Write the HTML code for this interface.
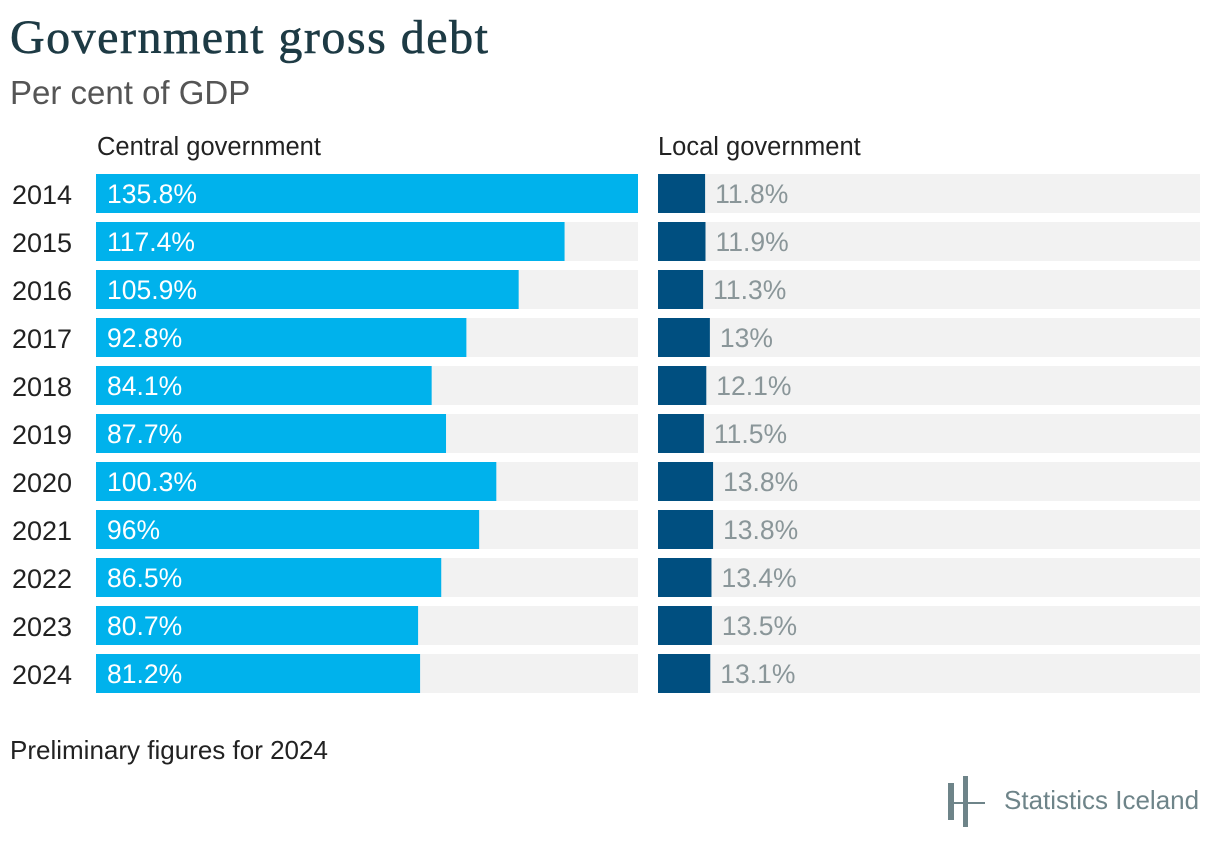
<!DOCTYPE html>
<html><head><meta charset="utf-8"><style>
body{margin:0;width:1220px;height:852px;background:#fff;font-family:"Liberation Sans",sans-serif;overflow:hidden;position:relative}
.t{position:absolute;white-space:nowrap}
</style></head><body>
<div class="t" style="left:10px;top:10px;font-family:'Liberation Serif',serif;font-size:48px;letter-spacing:1.5px;color:#1d3a44;-webkit-text-stroke:0.6px #1d3a44">Government gross debt</div>
<div class="t" style="left:10px;top:74px;font-size:33px;color:#555">Per cent of GDP</div>
<div class="t" style="left:97px;top:133px;font-size:25.5px;color:#222">Central government</div>
<div class="t" style="left:658px;top:133px;font-size:25.5px;color:#222">Local government</div>
<svg id="chart" width="1220" height="852" style="position:absolute;left:0;top:0"></svg>
<div class="t" style="left:10px;top:735px;font-size:26px;color:#222">Preliminary figures for 2024</div>
<div>
<div style="position:absolute;left:948px;top:783px;width:6px;height:37px;background:#6e8489"></div>
<div style="position:absolute;left:963px;top:776px;width:5px;height:51px;background:#6e8489"></div>
<div style="position:absolute;left:948px;top:802px;width:37px;height:2px;background:#6e8489"></div>
<div class="t" style="left:1004px;top:785px;font-size:26px;color:#6e8489">Statistics Iceland</div>
</div>
<script>
const years=["2014","2015","2016","2017","2018","2019","2020","2021","2022","2023","2024"];
const central=[135.8,117.4,105.9,92.8,84.1,87.7,100.3,96,86.5,80.7,81.2];
const local=[11.8,11.9,11.3,13,12.1,11.5,13.8,13.8,13.4,13.5,13.1];
const NS="http://www.w3.org/2000/svg";
const svg=document.getElementById('chart');
const maxV=135.8,W=542;
const x=v=>v/maxV*W;
const y=i=>174+i*48;
function mk(tag,attrs){const e=document.createElementNS(NS,tag);for(const k in attrs)e.setAttribute(k,attrs[k]);svg.appendChild(e);return e;}
years.forEach((yr,i)=>{
  const yl=mk('text',{x:12,y:y(i)+30,'font-size':27,fill:'#222','font-family':'Liberation Sans, sans-serif'});
  yl.textContent=yr;
  
  
  const bg1=mk('rect',{x:96,y:y(i),width:W,height:39,fill:'#f2f2f2'});
  
  
  const b1=mk('rect',{x:96,y:y(i),width:x(central[i]),height:39,fill:'#00b2ec'});
  
  
  const t1=mk('text',{x:107,y:y(i)+29,'font-size':26.5,fill:'#fff','font-family':'Liberation Sans, sans-serif'});
  t1.textContent=central[i]+'%';
  
  
  const bg2=mk('rect',{x:658,y:y(i),width:W,height:39,fill:'#f2f2f2'});
  
  
  const b2=mk('rect',{x:658,y:y(i),width:x(local[i]),height:39,fill:'#004f80'});
  
  
  const t2=mk('text',{x:658+x(local[i])+10,y:y(i)+29,'font-size':26.5,fill:'#8a9699','font-family':'Liberation Sans, sans-serif'});
  t2.textContent=local[i]+'%';
  
  
});
</script>
</body></html>
